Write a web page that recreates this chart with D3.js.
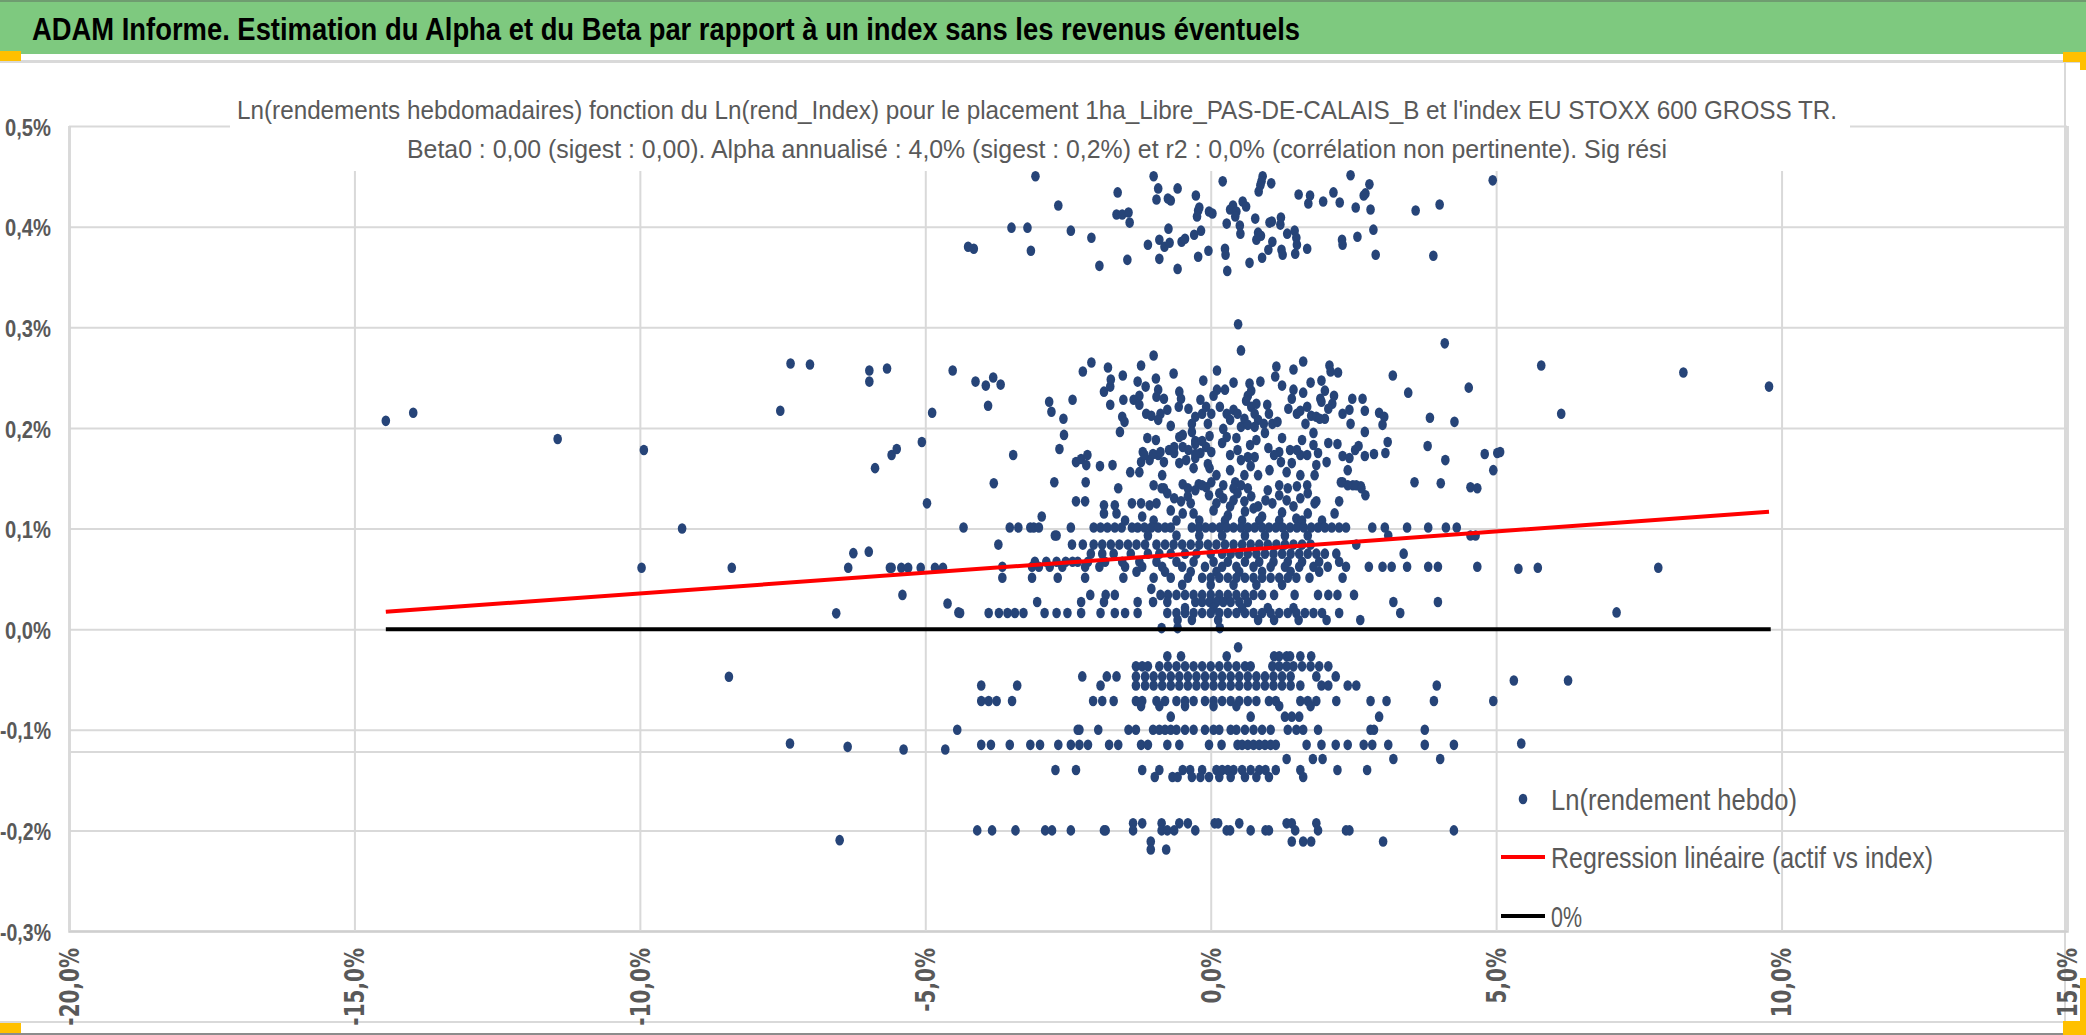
<!DOCTYPE html>
<html>
<head>
<meta charset="utf-8">
<script src="https://cdn.jsdelivr.net/npm/d3@7"></script>
<style>
    html, body { margin: 0; padding: 0; background: #fff; overflow: hidden; }
    svg { display: block; }
</style>
</head>
<body>
<svg id="chart" width="2086" height="1035"></svg>
<script>
// ticks (percent units)
const xTicks = [-20, -15, -10, -5, 0, 5, 10, 15];
const yTicks = [-0.3, -0.2, -0.1, 0, 0.1, 0.2, 0.3, 0.4, 0.5];

// scattered weekly points [index %, asset %], upper band around 0,4%
const upperBand = [[-3.07,0.450],[-1.00,0.450],[0.21,0.445],[0.91,0.450],[0.89,0.445],[0.87,0.441],[1.06,0.443],[0.84,0.435],[2.45,0.451],[2.78,0.442],[4.94,0.446],[-1.63,0.434],[-0.92,0.438],[-0.58,0.438],[-0.95,0.427],[-0.75,0.428],[-0.70,0.426],[-0.26,0.431],[1.54,0.432],[1.74,0.431],[1.71,0.423],[1.97,0.425],[2.15,0.434],[2.26,0.424],[2.68,0.431],[2.71,0.433],[2.54,0.419],[2.80,0.417],[3.59,0.416],[4.01,0.422],[-2.67,0.421],[-1.65,0.412],[-1.55,0.412],[-1.44,0.414],[-1.42,0.404],[-3.49,0.399],[-3.21,0.399],[-2.45,0.396],[-2.09,0.389],[-4.25,0.380],[-4.15,0.378],[-3.15,0.376],[-1.95,0.361],[-1.46,0.367],[-1.10,0.382],[-0.90,0.387],[-0.81,0.380],[-0.72,0.384],[-0.90,0.368],[-0.58,0.358],[-0.51,0.385],[-0.45,0.388],[-0.74,0.398],[-0.29,0.392],[-0.17,0.396],[-0.22,0.370],[-0.04,0.376],[-0.22,0.416],[-0.20,0.419],[-0.24,0.410],[-0.03,0.415],[0.03,0.413],[0.28,0.403],[0.25,0.378],[0.26,0.372],[0.29,0.356],[0.34,0.417],[0.39,0.421],[0.45,0.415],[0.43,0.410],[0.56,0.425],[0.62,0.420],[0.51,0.401],[0.52,0.393],[0.78,0.408],[0.68,0.364],[0.83,0.394],[0.88,0.391],[0.80,0.387],[1.07,0.405],[1.03,0.404],[1.23,0.409],[1.22,0.402],[1.08,0.385],[1.34,0.393],[1.47,0.396],[1.50,0.389],[1.51,0.382],[1.01,0.377],[0.90,0.369],[1.24,0.377],[1.26,0.372],[1.48,0.373],[1.69,0.378],[2.30,0.387],[2.31,0.382],[2.57,0.390],[2.85,0.397],[2.89,0.372],[3.90,0.371]];

// middle band 0,14% .. 0,30%
const middleBand = [[-14.45,0.207],[-13.97,0.215],[-11.44,0.189],[-9.93,0.178],[-7.54,0.217],[-7.36,0.264],[-7.02,0.263],[-5.98,0.257],[-5.98,0.246],[-5.67,0.259],[-5.88,0.160],[-5.59,0.173],[-5.50,0.179],[-5.06,0.186],[-4.88,0.215],[-4.52,0.257],
[0.48,0.303],[0.53,0.277],[4.10,0.284],[-1.00,0.272],[-2.09,0.265],[-4.12,0.246],[-3.94,0.242],[-3.81,0.250],[-3.68,0.243],[-3.90,0.222],[-3.46,0.173],[-3.80,0.145],[-2.83,0.226],[-2.79,0.216],[-2.42,0.228],[-2.24,0.256],[-2.58,0.209],[-2.57,0.193],[-2.65,0.179],[-2.74,0.146],[-2.36,0.166],[-2.27,0.169],[-2.16,0.173],[-2.18,0.163],[-1.94,0.162],[-1.72,0.163],[-2.19,0.146],[-1.87,0.236],[-1.76,0.241],[-1.80,0.260],[-1.75,0.248],[-1.76,0.223],[-1.54,0.252],[-1.53,0.228],[-1.55,0.211],[-1.51,0.206],[-1.59,0.196],[-1.22,0.262],[-1.28,0.246],[-1.14,0.241],[-1.25,0.232],[-1.35,0.228],[-1.25,0.223],[-1.13,0.214],[-1.04,0.212],[-0.96,0.249],[-0.92,0.238],[-0.95,0.231],[-0.82,0.229],[-0.76,0.218],[-0.88,0.214],[-0.92,0.208],[-0.65,0.254],[-0.55,0.236],[-0.52,0.229],[-0.56,0.221],[-0.39,0.219],[-0.27,0.211],[-0.33,0.204],[-0.70,0.202],[-1.11,0.190],[-0.96,0.188],[-1.19,0.176],[-1.22,0.166],[-1.07,0.168],[-0.92,0.173],[-0.82,0.166],[-0.73,0.178],[-0.64,0.175],[-0.55,0.191],[-0.49,0.181],[-0.85,0.153],[-1.41,0.156],[-1.25,0.156],
[0.11,0.257],[-0.13,0.247],[0.11,0.238],[0.25,0.238],[1.15,0.261],[1.13,0.251],[1.45,0.258],[1.62,0.266],[2.08,0.262],[2.10,0.256],[2.23,0.255],[1.94,0.247],[2.00,0.237],[1.92,0.229],[2.16,0.232],[2.13,0.224],[2.06,0.219],[1.94,0.226],[0.87,0.246],[0.68,0.244],[0.71,0.237],[0.65,0.232],[0.62,0.227],[0.71,0.221],[0.80,0.224],[0.77,0.214],[0.83,0.208],[0.99,0.223],[1.02,0.214],[0.93,0.204],[1.08,0.204],[1.17,0.206],[1.45,0.238],[1.62,0.235],[1.42,0.229],[1.36,0.219],[1.51,0.214],[1.57,0.217],[1.69,0.221],[1.66,0.204],[1.76,0.212],[1.85,0.211],[1.91,0.209],[2.00,0.209],[2.31,0.214],[2.43,0.218],[2.48,0.229],[2.66,0.229],[2.70,0.217],[2.45,0.204],[2.95,0.215],[3.04,0.211],[3.01,0.203],[3.19,0.252],[3.46,0.235],[3.84,0.210],[4.27,0.206],[4.52,0.240],[2.70,0.196],[3.10,0.186],[3.06,0.175],[2.86,0.174],[2.70,0.172],[3.80,0.182],[4.11,0.168],[4.80,0.174],[4.95,0.158],[5.02,0.175],[3.57,0.146],[4.03,0.145],[4.55,0.141],[4.67,0.140],[2.31,0.146],[2.49,0.143],[2.63,0.142],[2.40,0.158],[2.31,0.172],[2.43,0.170],[2.06,0.185],[2.22,0.184],[2.59,0.182],[2.53,0.178],[1.88,0.175],[2.03,0.166],[1.85,0.163],[1.82,0.153],[1.69,0.143],[1.57,0.153],[1.42,0.165],[1.39,0.178],[1.57,0.173],[1.69,0.173],[1.51,0.178],[1.20,0.176],[1.11,0.173],[1.23,0.166],[1.03,0.158],[1.33,0.156],[1.20,0.143],[1.51,0.142],[1.01,0.180],[0.83,0.153],[0.77,0.171],[0.80,0.188],[0.69,0.183],[0.65,0.171],[0.47,0.178],[0.53,0.168],[0.34,0.173],[0.28,0.191],[0.22,0.199],[0.16,0.221],[0.28,0.214],[0.40,0.218],[0.34,0.208],[0.53,0.201],[0.47,0.214],[0.59,0.209],[0.65,0.203],[0.77,0.201],[0.34,0.158],[0.43,0.146],[0.59,0.153],[0.53,0.143],[0.40,0.140],[0.22,0.143],[0.10,0.153],[-0.02,0.160],[0.01,0.146],[-0.08,0.141],[-0.21,0.144],[-0.27,0.170],[-0.18,0.175],[-0.08,0.181],[0.01,0.176],[-0.05,0.164],[0.01,0.214],[-0.15,0.214],[-0.05,0.204],[-0.02,0.192],[-0.27,0.187],[-0.27,0.174],[-0.49,0.144],[-0.40,0.140],[-0.82,0.140],[-1.00,0.143],[-1.62,0.140],[-0.18,0.228],[-0.08,0.221],[-0.49,0.193],[-0.33,0.196],[-0.27,0.184],[-0.15,0.187],[-0.39,0.178],[-0.43,0.168],[-0.55,0.165],[-1.16,0.173],[-1.01,0.174],[-0.88,0.176],[-0.64,0.181],
[0.20,0.185],[0.45,0.190],[0.95,0.195],[1.25,0.190],[1.60,0.188],[1.80,0.195],[0.05,0.232],[0.40,0.245],[1.25,0.242],[1.75,0.245],[-0.30,0.160],[0.70,0.162],[1.80,0.183],
[5.79,0.262],[6.14,0.214],[8.28,0.255],[9.78,0.241],[5.07,0.176]];

// 0,11% .. 0,15% and isolated points
const lowerScatter = [[-2.36,0.127],[-2.20,0.127],[-1.87,0.123],[-1.68,0.123],[-1.38,0.125],[-1.22,0.125],[-1.07,0.123],[-0.95,0.125],[-0.86,0.140],[-0.76,0.135],[-0.64,0.130],[-0.52,0.127],[-0.40,0.132],[-0.27,0.138],[-0.15,0.143],[-0.03,0.133],[0.10,0.125],[0.22,0.130],[0.34,0.122],[0.47,0.135],[0.59,0.127],[0.71,0.132],[0.83,0.122],[0.96,0.128],[1.08,0.125],[1.20,0.133],[1.33,0.128],[1.45,0.122],[1.57,0.130],[1.70,0.135],[1.82,0.125],[1.70,0.115],[2.17,0.115],[2.25,0.127],[1.85,0.127],[2.40,0.143],[2.55,0.143],[2.64,0.140],[2.71,0.133],[2.28,0.146],[-1.87,0.115],[-1.65,0.115],[-0.49,0.115],[-0.30,0.115],[-2.96,0.112],
[0.05,0.118],[0.30,0.113],[0.60,0.117],[0.90,0.112],[1.25,0.116],[1.50,0.110],[-0.70,0.118],[-1.20,0.112],[0.15,0.135],[0.65,0.140],[1.00,0.138],[1.35,0.140],[-0.35,0.125],[0.40,0.128],[0.75,0.120],
[-4.97,0.125],[-9.26,0.100],[-9.97,0.061],[-8.39,0.061],[-6.35,0.061],[-6.26,0.0755],[-5.99,0.077],[-5.62,0.061],[-5.59,0.061],[-5.42,0.061],[-5.30,0.061],[-5.08,0.061],[-4.83,0.061],[-4.69,0.061],[-5.40,0.034],[-4.61,0.0255],[-4.42,0.0166],[-6.56,0.0157],[-8.44,-0.0474],[-7.37,-0.1136],[-6.36,-0.117],[-5.38,-0.1196],[-4.65,-0.1196],[-4.44,-0.100],[-6.50,-0.2097],[5.39,0.060],[5.73,0.061],[7.84,0.061],[7.11,0.0166],[5.31,-0.051],[6.26,-0.051],[5.44,-0.1136]];

// rows of the dense core: asset return level and the index returns on it
const posLevels = [0.108, 0.101, 0.093, 0.084, 0.075, 0.067, 0.062, 0.057, 0.051, 0.044, 0.040, 0.034, 0.027, 0.021, 0.016, 0.009, 0.001];
const posRows = [
    [-1.50,-1.00,-0.60,-0.20,0.25,0.55,0.85,1.20,1.60,1.95],
    [-4.33,-3.52,-3.37,-3.16,-3.10,-3.01,-2.45,-2.05,-1.93,-1.81,-1.68,-1.56,-1.38,-1.28,-1.16,-1.04,-0.92,-0.80,-0.70,-0.33,-0.21,-0.09,0.03,0.16,0.28,0.40,0.53,0.65,0.77,0.90,1.02,1.14,1.26,1.39,1.51,1.63,1.76,1.88,2.00,2.12,2.25,2.37,2.83,3.05,3.44,3.81,4.12,4.31],
    [-2.73,-2.70,-1.10,-0.60,-0.20,0.20,0.60,0.95,1.30,1.70,3.11,4.55,4.64],
    [-3.72,-2.43,-2.24,-2.05,-1.90,-1.75,-1.60,-1.45,-1.30,-1.15,-0.95,-0.80,-0.65,-0.50,-0.35,-0.20,-0.05,0.10,0.25,0.40,0.55,0.70,0.85,1.00,1.15,1.30,1.45,1.60,1.75,2.55],
    [-2.10,-1.90,-1.70,-1.40,-1.10,-0.90,-0.70,-0.45,-0.25,0.00,0.20,0.35,0.50,0.65,0.80,0.95,1.10,1.25,1.40,1.55,1.70,1.85,2.00,2.20,3.38],
    [-3.08,-2.88,-2.70,-2.54,-2.42,-2.33,-2.15,-1.85,-1.55,-1.25,-0.95,-0.60,-0.30,0.05,0.30,0.60,0.85,1.10,1.35,1.60,1.90,2.25],
    [-3.65,-3.13,-3.01,-2.82,-2.60,-2.20,-1.95,-1.50,-1.20,-0.85,-0.50,-0.10,0.20,0.45,0.75,1.05,1.30,1.55,1.80,2.05,2.37,2.77,3.01,3.17,3.44,3.81,3.98,4.67],
    [-1.30,-0.80,-0.35,0.10,0.50,0.90,1.40,1.90],
    [-3.65,-3.13,-2.68,-2.20,-1.53,-1.00,-0.70,-0.40,-0.15,0.00,0.15,0.30,0.45,0.60,0.75,0.90,1.05,1.20,1.35,1.50,1.73,2.31],
    [-0.50,0.00,0.40,0.80,1.25],
    [-1.04],
    [-2.11,-1.84,-1.68,-0.88,-0.75,-0.60,-0.45,-0.30,-0.15,0.00,0.15,0.30,0.45,0.60,0.75,0.90,1.11,1.47,1.88,2.06,2.22,2.51],
    [-3.04,-2.27,-1.87,-1.28,-1.01,-0.76,-0.27,-0.15,-0.02,0.10,0.22,0.35,0.50,0.65,3.20,3.98],
    [-0.45,0.05,0.55,1.00,1.45],
    [-4.39,-3.89,-3.71,-3.56,-3.43,-3.28,-2.91,-2.70,-2.51,-2.27,-1.93,-1.68,-1.50,-1.28,-0.76,-0.60,-0.45,-0.30,-0.15,0.00,0.15,0.30,0.45,0.60,0.75,0.90,1.05,1.20,1.35,1.50,1.65,1.80,1.95,2.25,3.32],
    [-0.58,-0.33,0.13,0.83,1.11,1.54,2.03,2.62],
    [-0.86,-0.58,0.16]
];
const negLevels = [-0.018, -0.027, -0.037, -0.047, -0.056, -0.0715, -0.0765, -0.087, -0.100, -0.115, -0.129, -0.140, -0.147, -0.193, -0.200, -0.211, -0.219];
const negRows = [
    [0.48],
    [-0.76,-0.52,0.28,1.11,1.20,1.33,1.39,1.57,1.76],
    [-1.31,-1.20,-1.10,-0.90,-0.75,-0.60,-0.45,-0.30,-0.15,0.00,0.15,0.30,0.45,0.60,0.70,1.08,1.20,1.33,1.45,1.60,1.75,1.90,2.06],
    [-2.25,-1.82,-1.65,-1.31,-1.15,-1.00,-0.85,-0.70,-0.55,-0.40,-0.25,-0.10,0.05,0.20,0.35,0.50,0.65,0.80,0.95,1.10,1.25,1.40,1.85,2.19],
    [-4.02,-3.39,-1.93,-1.31,-1.15,-1.00,-0.85,-0.70,-0.55,-0.40,-0.25,-0.10,0.05,0.20,0.35,0.50,0.65,0.80,0.95,1.10,1.25,1.40,1.57,1.94,2.06,2.40,2.55,3.96],
    [-4.02,-3.89,-3.75,-3.48,-2.06,-1.90,-1.70,-1.31,-1.20,-0.95,-0.80,-0.60,-0.45,-0.30,-0.10,0.05,0.20,0.35,0.50,0.65,0.80,1.02,1.14,1.57,1.70,1.85,2.20,2.80,3.08,3.91,4.95],
    [-1.22,-0.90,-0.45,0.05,0.45,1.20,1.75],
    [-0.70,0.70,1.30,1.42,1.55,2.95],
    [-2.33,-2.30,-1.97,-1.44,-1.31,-1.01,-0.90,-0.80,-0.70,-0.60,-0.45,-0.30,-0.10,0.05,0.15,0.35,0.45,0.60,0.75,0.90,1.05,1.35,1.50,1.62,1.88,2.80,2.86,3.75],
    [-4.02,-3.85,-3.52,-3.16,-2.99,-2.67,-2.45,-2.30,-2.15,-1.78,-1.62,-1.22,-1.10,-0.76,-0.55,-0.03,0.19,0.47,0.55,0.65,0.75,0.85,0.95,1.05,1.14,1.68,1.94,2.19,2.40,2.68,2.83,3.11,3.75,4.26],
    [1.33,1.79,1.96,3.20,4.02],
    [-2.72,-2.36,-1.20,-0.90,-0.49,-0.36,-0.15,0.10,0.20,0.30,0.40,0.55,0.70,0.85,0.96,1.14,1.57,2.22,2.74],
    [-0.98,-0.67,-0.58,-0.33,-0.18,-0.03,0.15,0.35,0.60,0.80,1.02,1.62],
    [-1.36,-1.20,-0.86,-0.55,-0.40,0.07,0.13,0.50,1.33,1.42,1.85],
    [-4.09,-3.83,-3.42,-2.90,-2.78,-2.45,-1.87,-1.84,-1.36,-0.86,-0.76,-0.64,-0.27,0.28,0.34,0.70,0.96,1.02,1.48,1.88,2.43,2.37,4.26],
    [-1.05,1.42,1.62,1.76,3.02],
    [-1.05,-0.78]
];

// regression and 0% line end points
const regX = [-14.45, 9.78];
const regY = [0.0172, 0.1166];
const zeroX = [-14.45, 9.81];
const zeroY = [0, 0];

const legendLabels = ["Ln(rendement hebdo)", "Regression linéaire (actif vs index)", "0%"];

const headerText = "ADAM Informe. Estimation du Alpha et du Beta par rapport à un index sans les revenus éventuels";
const titleLines = [
    "Ln(rendements hebdomadaires) fonction du Ln(rend_Index) pour le placement 1ha_Libre_PAS-DE-CALAIS_B et l'index EU STOXX 600 GROSS TR.",
    "Beta0 : 0,00 (sigest : 0,00). Alpha annualisé : 4,0% (sigest : 0,2%) et r2 : 0,0% (corrélation non pertinente). Sig rési"
];

// ---------------------------------------------------------------
const svg = d3.select("#chart");
const grey = "#595959";
const gridColor = "#d9d9d9";
const dotColor = "#264478";
const sans = "'Liberation Sans', Arial, sans-serif";

const plotLeft = 69, plotRight = 2067, plotTop = 126, plotBottom = 931;
const x = d3.scaleLinear().domain([-20, 15]).range([plotLeft, plotRight]);
const y = d3.scaleLinear().domain([-0.3, 0.5]).range([plotBottom, plotTop]);

// french decimals, plain hyphen as minus sign
const fr = d3.formatLocale({ decimal: ",", thousands: " ", grouping: [3], currency: ["", "€"], minus: "-" });
const fmt1 = fr.format(".1f");
// condensed width of a tick label (Calibri-like proportions)
const labelWidth = s => Array.from(s).reduce((w, c) => w + (c === "-" ? 5 : c === "," ? 5 : c === "%" ? 17 : 12), 0);

// header band
svg.append("rect").attr("x", 0).attr("y", 0).attr("width", 2086).attr("height", 54).attr("fill", "#7ec97f");
svg.append("line").attr("x1", 0).attr("x2", 2086).attr("y1", 1).attr("y2", 1).attr("stroke", "#6f9c70").attr("stroke-width", 2);
svg.append("text")
    .attr("x", 32).attr("y", 40)
    .attr("textLength", 1268).attr("lengthAdjust", "spacingAndGlyphs")
    .style("font-family", sans)
    .style("font-weight", "bold").style("font-size", "32px").style("fill", "#000")
    .text(headerText);

// frame lines
svg.append("line").attr("x1", 0).attr("x2", 2086).attr("y1", 61.5).attr("y2", 61.5).attr("stroke", gridColor).attr("stroke-width", 3);
svg.append("line").attr("x1", 2065).attr("x2", 2065).attr("y1", 62).attr("y2", 1022).attr("stroke", gridColor).attr("stroke-width", 2);
svg.append("line").attr("x1", 0).attr("x2", 2086).attr("y1", 1022).attr("y2", 1022).attr("stroke", gridColor).attr("stroke-width", 2);
svg.append("line").attr("x1", 0).attr("x2", 2086).attr("y1", 1034).attr("y2", 1034).attr("stroke", "#8c8c8c").attr("stroke-width", 2);

// grid via axes
const yAxis = d3.axisLeft(y).tickValues(yTicks).tickSize(-(plotRight - plotLeft)).tickPadding(18)
    .tickFormat(d => fmt1(d) + "%");
const gy = svg.append("g").attr("transform", `translate(${plotLeft},0)`).call(yAxis);
gy.select(".domain").remove();
gy.selectAll("line").attr("stroke", gridColor).attr("stroke-width", 2);
gy.selectAll("text")
    .attr("dy", "0.4em")
    .attr("textLength", function () { return labelWidth(this.textContent); })
    .attr("lengthAdjust", "spacingAndGlyphs")
    .style("font-family", sans).style("font-weight", "bold").style("font-size", "23px").style("fill", grey);

const xAxis = d3.axisBottom(x).tickValues(xTicks).tickSize(-(plotBottom - plotTop)).tickPadding(0)
    .tickFormat(d => fmt1(d) + "%");
const gx = svg.append("g").attr("transform", `translate(0,${plotBottom})`).call(xAxis);
gx.select(".domain").attr("stroke", "#cfcfcf").attr("stroke-width", 2.5);
gx.selectAll("line").attr("stroke", gridColor).attr("stroke-width", 2);
gx.selectAll("text")
    .attr("transform", "rotate(-90) scale(1,1.3)")
    .attr("x", -17).attr("y", 0).attr("dy", "0.36em")
    .attr("text-anchor", "end")
    .style("font-family", "'DejaVu Sans', Verdana, sans-serif").style("font-weight", "bold")
    .style("font-size", "20px").style("fill", grey);

// stray separator line inside the plot
svg.append("line").attr("x1", plotLeft).attr("x2", 2066).attr("y1", 752).attr("y2", 752).attr("stroke", gridColor).attr("stroke-width", 2);

// title box
svg.append("rect").attr("x", 230).attr("y", 88).attr("width", 1620).attr("height", 83).attr("fill", "#fff");
svg.selectAll("text.title").data(titleLines).join("text")
    .attr("class", "title")
    .attr("x", 1037).attr("y", (d, i) => 119 + i * 39)
    .attr("text-anchor", "middle")
    .attr("textLength", (d, i) => i === 0 ? 1600 : 1260).attr("lengthAdjust", "spacingAndGlyphs")
    .style("font-family", sans).style("font-size", "26px").style("fill", grey)
    .text(d => d);

// points
const points = upperBand.concat(middleBand, lowerScatter);
posLevels.forEach((lv, i) => posRows[i].forEach(v => points.push([v, lv])));
negLevels.forEach((lv, i) => negRows[i].forEach(v => points.push([v, lv])));

svg.append("g").selectAll("ellipse").data(points).join("ellipse")
    .attr("cx", d => x(d[0])).attr("cy", d => y(d[1]))
    .attr("rx", 4.3).attr("ry", 5.3)
    .attr("fill", dotColor);

// regression and 0% lines
const line = d3.line().x(d => x(d[0])).y(d => y(d[1]));
svg.append("path").datum(regX.map((v, i) => [v, regY[i]])).attr("d", line)
    .attr("stroke", "#ff0000").attr("stroke-width", 4).attr("fill", "none");
svg.append("path").datum(zeroX.map((v, i) => [v, zeroY[i]])).attr("d", line)
    .attr("stroke", "#000").attr("stroke-width", 4).attr("fill", "none");

// legend
const legend = svg.append("g");
const legendY = [799, 857, 916];
const legendW = [246, 382, 31];
legend.append("ellipse").attr("cx", 1523).attr("cy", legendY[0]).attr("rx", 4.3).attr("ry", 5.3).attr("fill", dotColor);
legend.append("line").attr("x1", 1501).attr("x2", 1545).attr("y1", legendY[1]).attr("y2", legendY[1]).attr("stroke", "#ff0000").attr("stroke-width", 4);
legend.append("line").attr("x1", 1501).attr("x2", 1545).attr("y1", legendY[2]).attr("y2", legendY[2]).attr("stroke", "#000").attr("stroke-width", 4);
legend.selectAll("text").data(legendLabels).join("text")
    .attr("x", 1551).attr("y", (d, i) => legendY[i] + 10.5)
    .attr("textLength", (d, i) => legendW[i]).attr("lengthAdjust", "spacingAndGlyphs")
    .style("font-family", sans).style("font-size", "30px").style("fill", grey)
    .text(d => d);

// selection handles
const handles = [[0, 51, 21, 10], [2063, 52, 23, 10], [2080, 52, 6, 18], [2080, 978, 6, 44], [2063, 1021, 23, 14], [0, 1023, 21, 10]];
svg.append("g").selectAll("rect").data(handles).join("rect")
    .attr("x", d => d[0]).attr("y", d => d[1]).attr("width", d => d[2]).attr("height", d => d[3])
    .attr("fill", "#ffc000");
</script>
</body>
</html>
